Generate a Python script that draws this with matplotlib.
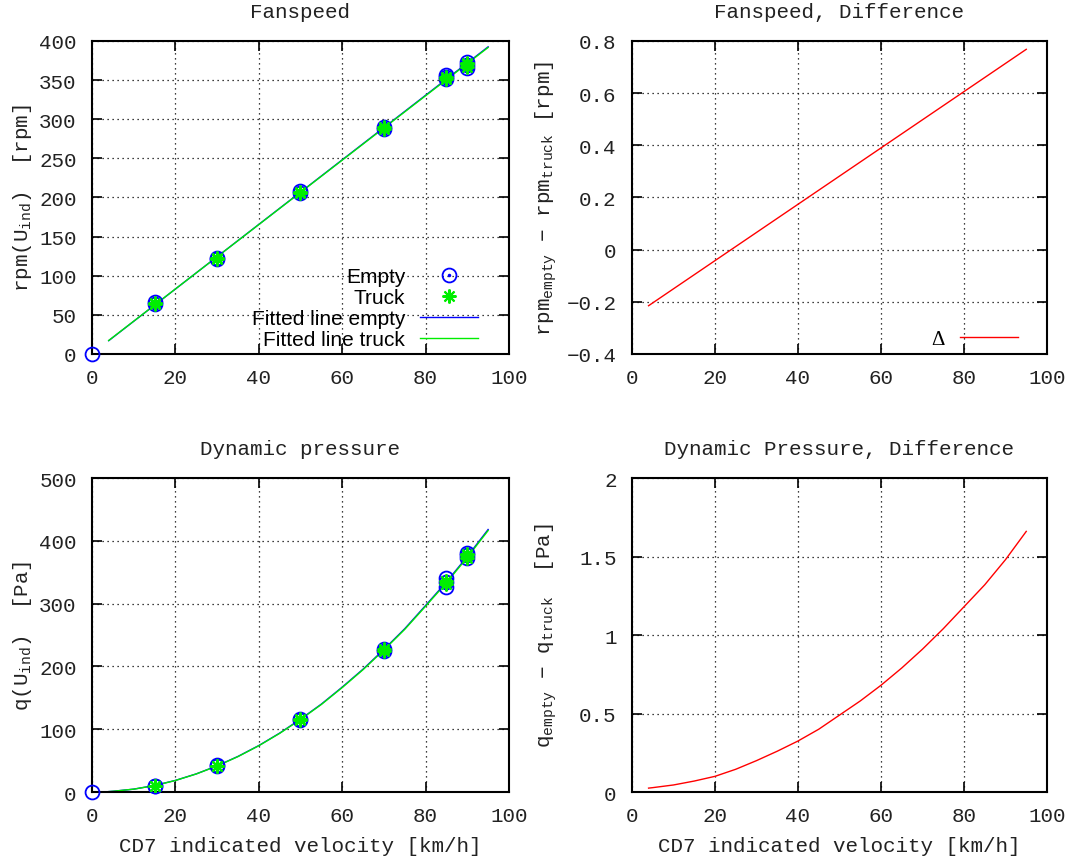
import matplotlib
matplotlib.use("Agg")
from matplotlib import pyplot as plt
from matplotlib.legend_handler import HandlerTuple

plt.rcParams['font.family'] = ['Liberation Mono', 'DejaVu Sans Mono']
plt.rcParams['mathtext.default'] = 'regular'

# measured points (several runs per velocity)
v_empty = [0, 15, 15, 30, 30, 50, 50, 70, 70, 85, 85, 85, 90, 90, 90]
rpm_empty = [0, 64, 66, 121, 123, 206, 208, 288, 290, 352, 354, 357, 365, 369, 373]
v_truck = [15, 15, 30, 30, 50, 50, 70, 70, 85, 85, 90, 90, 90]
rpm_truck = [64, 65, 121, 123, 206, 207, 288, 290, 352, 354, 367, 370, 372]

q_empty = [0, 9, 10, 41, 43, 114, 116, 225, 227, 327, 334, 341, 372, 377, 380]
q_truck = [9, 10, 41, 42, 114, 116, 225, 227, 331, 336, 373, 377, 379]

# fitted curves
v_fit = [4, 95]
rpm_fit_empty = [17.0, 392.5]
rpm_fit_truck = [17.2, 391.7]
rpm_diff = [-0.215, 0.768]

v_qfit = [4, 5, 10, 15, 20, 25, 30, 35, 40, 45, 50,
          55, 60, 65, 70, 75, 80, 85, 90, 95]
q_fit_empty = [0.7, 1.2, 4.6, 10.4, 18.5, 28.9, 41.7, 56.7, 74, 93.8, 116,
               140, 167, 195.6, 227, 260, 297, 334.5, 375, 418]
q_fit_truck = [0.7, 1.2, 4.6, 10.3, 18.4, 28.8, 41.5, 56.4, 73.7, 93.4, 115.5,
               139.4, 166.3, 194.8, 226.1, 259, 295.8, 333.2, 373.5, 416.3]
q_diff = [0.025, 0.028, 0.045, 0.07, 0.10, 0.145, 0.20, 0.26, 0.325, 0.40, 0.49,
          0.58, 0.68, 0.79, 0.91, 1.04, 1.18, 1.32, 1.48, 1.66]

blue = '#0000ff'
green = '#00ee00'
red = '#ff0000'
txt = '#222222'
fs = 15

fig = plt.figure(figsize=(10.65, 8.62), dpi=100)
ax1 = fig.add_axes([0.0864, 0.5882, 0.3915, 0.3631])
ax2 = fig.add_axes([0.5934, 0.5882, 0.3897, 0.3631])
ax3 = fig.add_axes([0.0864, 0.0800, 0.3915, 0.3643])
ax4 = fig.add_axes([0.5934, 0.0800, 0.3897, 0.3643])


def style(ax, title):
    ax.set_title(title, fontsize=fs, color=txt, pad=17)
    ax.grid(True, color='black', linestyle=(0, (1, 3)), linewidth=0.9)
    ax.tick_params(direction='in', length=7, width=1.2, top=True, right=True,
                   labelsize=fs, labelcolor=txt)
    ax.tick_params(axis='x', pad=10)
    ax.tick_params(axis='y', pad=11)
    for s in ax.spines.values():
        s.set_linewidth(1.5)
    ax.set_xlim(0, 100)
    ax.set_xticks([0, 20, 40, 60, 80, 100])


def points(ax, ye, yt):
    c, = ax.plot(v_empty, ye, 'o', ms=10, mfc='none', mec=blue, mew=1.3,
                 clip_on=False, zorder=3)
    d, = ax.plot(v_empty[1:], ye[1:], '.', ms=3, color=blue, zorder=3)
    s, = ax.plot(v_truck, yt, marker=(8, 2, 0), ls='none', ms=10,
                 color=green, mew=1.5, zorder=4)
    return (c, d), s


# Fanspeed
style(ax1, 'Fanspeed')
h_e, h_t = points(ax1, rpm_empty, rpm_truck)
l_e, = ax1.plot(v_fit, rpm_fit_empty, color=blue, lw=1)
l_t, = ax1.plot(v_fit, rpm_fit_truck, color=green, lw=1)
ax1.set_ylim(0, 400)
ax1.set_yticks(range(0, 401, 50))
ax1.set_ylabel('rpm(U$_{ind}$)  [rpm]', fontsize=fs, color=txt)
leg = ax1.legend([h_e, h_t, l_e, l_t],
                 ['Empty', 'Truck', 'Fitted line empty', 'Fitted line truck'],
                 handler_map={tuple: HandlerTuple(ndivide=1)},
                 loc='lower right', bbox_to_anchor=(0.926, 0.015),
                 frameon=False, markerfirst=False,
                 prop={'family': 'Liberation Sans', 'size': 15},
                 handlelength=2.8, handletextpad=0.7, labelspacing=0.1,
                 borderpad=0, borderaxespad=0)
for col in leg._legend_box._children[-1]._children:
    col.align = 'right'

# Fanspeed difference
style(ax2, 'Fanspeed, Difference')
ax2.plot(v_fit, rpm_diff, color=red, lw=1, label='Δ')
ax2.set_ylim(-0.4, 0.8)
ax2.set_yticks([-0.4, -0.2, 0, 0.2, 0.4, 0.6, 0.8])
ax2.set_yticklabels(['\u22120.4', '\u22120.2', '0', '0.2', '0.4', '0.6', '0.8'])
ax2.set_ylabel('rpm$_{empty}$ \u2212 rpm$_{truck}$ [rpm]', fontsize=fs, color=txt)
ax2.legend(loc='lower right', bbox_to_anchor=(0.93, 0.015),
           frameon=False, markerfirst=False,
           prop={'family': 'Liberation Serif', 'size': 15},
           handlelength=2.8, handletextpad=0.7, borderpad=0, borderaxespad=0)

# Dynamic pressure
style(ax3, 'Dynamic pressure')
points(ax3, q_empty, q_truck)
ax3.plot(v_qfit, q_fit_empty, color=blue, lw=1)
ax3.plot(v_qfit, q_fit_truck, color=green, lw=1)
ax3.set_ylim(0, 500)
ax3.set_yticks(range(0, 501, 100))
ax3.set_ylabel('q(U$_{ind}$)  [Pa]', fontsize=fs, color=txt)
ax3.set_xlabel('CD7 indicated velocity [km/h]', fontsize=fs, color=txt, labelpad=8)

# Dynamic pressure difference
style(ax4, 'Dynamic Pressure, Difference')
ax4.plot(v_qfit, q_diff, color=red, lw=1)
ax4.set_ylim(0, 2)
ax4.set_yticks([0, 0.5, 1, 1.5, 2])
ax4.set_yticklabels(['0', '0.5', '1', '1.5', '2'])
ax4.set_ylabel('q$_{empty}$ \u2212 q$_{truck}$  [Pa]', fontsize=fs, color=txt)
ax4.set_xlabel('CD7 indicated velocity [km/h]', fontsize=fs, color=txt, labelpad=8)

for ax in (ax1, ax3):
    ax.yaxis.set_label_coords(-0.14, 0.5)
for ax in (ax2, ax4):
    ax.yaxis.set_label_coords(-0.175, 0.5)

fig.savefig('out.png', dpi=100)
